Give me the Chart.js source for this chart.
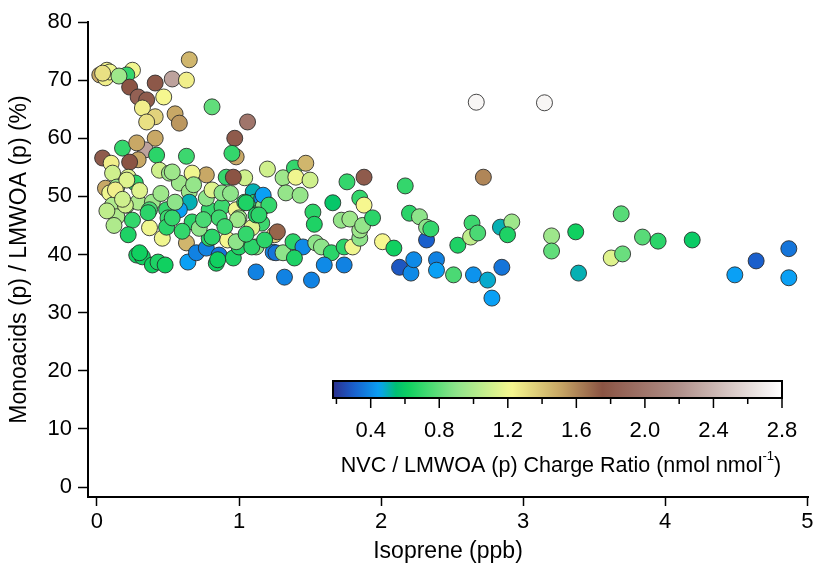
<!DOCTYPE html>
<html>
<head>
<meta charset="utf-8">
<script src="https://cdn.jsdelivr.net/npm/chart.js@4"></script>
<style>
	body { margin: 0; background: #fff; }
	#wrap { width: 817px; height: 569px; }
</style>
</head>
<body>
<div id="wrap"><canvas id="scatter"></canvas></div>
<script>

// isoprene (ppb), monoacid fraction (%), NVC / LMWOA charge ratio
const isoprene = [
	0.07, 0.02, 0.06, 0.09, 0.04, 0.25, 0.21, 0.155, 0.23, 0.41,
	0.53, 0.63, 0.65, 0.29, 0.35, 0.47, 0.32, 0.41, 0.35, 0.55,
	0.58, 0.81, 1.06, 0.97, 0.98, 0.95, 0.41, 0.34, 0.18, 0.04,
	0.28, 0.42, 0.63, 1.2, 0.1, 0.06, 0.11, 0.29, 0.23, 0.44,
	0.51, 0.58, 0.65, 0.65, 0.77, 0.22, 0.27, 0.14, 0.09, 0.11,
	0.21, 0.29, 0.39, 0.14, 0.25, 0.37, 0.49, 0.5, 0.58, 0.37,
	0.22, 0.46, 0.63, 0.28, 0.32, 0.39, 0.43, 0.48, 0.64, 0.7,
	0.77, 0.84, 0.86, 0.96, 0.92, 0.79, 0.79, 0.77, 0.88, 0.86,
	0.98, 1.0, 0.91, 1.04, 1.1, 1.04, 1.11, 1.13, 1.16, 1.09,
	1.19, 1.0, 1.12, 1.24, 0.96, 0.53, 0.67, 0.81, 0.88, 1.16,
	1.17, 1.12, 0.67, 0.81, 0.98, 1.09, 0.85, 1.25, 1.27, 1.18,
	1.26, 1.31, 1.38, 1.45, 1.39, 1.54, 1.58, 1.65, 1.74, 1.8,
	1.85, 1.85, 1.6, 1.74, 1.32, 1.51, 1.31, 1.39, 1.47, 1.4,
	1.5, 1.33, 1.43, 1.76, 1.88, 1.66, 1.85, 1.88, 1.52, 1.53,
	1.72, 1.78, 1.87, 1.94, 2.17, 2.72, 2.67, 3.15, 2.01, 2.09,
	2.13, 2.21, 2.23, 2.32, 2.2, 2.27, 2.32, 2.35, 2.39, 2.39,
	2.51, 2.54, 2.64, 2.63, 2.68, 2.65, 2.75, 2.78, 2.85, 2.84,
	2.92, 2.89, 3.2, 3.2, 3.37, 3.39, 3.69, 3.62, 3.7, 3.84,
	3.95, 4.19, 4.49, 4.64, 4.87, 4.87, 1.12, 0.21, 0.2, 0.49,
	0.13, 0.3, 0.53, 0.36, 0.99, 1.05, 1.17, 1.21, 1.14, 0.72,
	0.6, 0.75, 0.9, 0.45, 0.55, 0.18, 0.07, 1.05, 0.68, 0.3,
	0.12, 0.94
];
const monoacids = [
	71.7, 70.9, 70.4, 71.4, 71.2, 71.7, 70.9, 70.7, 68.8, 69.5,
	70.2, 70.0, 73.5, 67.1, 66.6, 67.1, 65.2, 63.7, 62.8, 64.2,
	62.6, 65.4, 62.8, 60.0, 56.8, 57.4, 60.0, 58.0, 58.3, 56.6,
	59.2, 57.1, 56.9, 54.7, 55.7, 51.4, 54.0, 56.3, 55.9, 54.5,
	54.0, 52.3, 50.8, 49.0, 53.7, 53.3, 52.3, 51.6, 50.6, 48.5,
	48.5, 49.0, 49.0, 46.5, 45.9, 47.7, 47.7, 46.3, 47.7, 44.6,
	43.4, 42.8, 42.0, 39.9, 39.6, 38.2, 38.7, 38.2, 38.7, 40.3,
	41.1, 38.5, 39.9, 39.4, 42.5, 42.8, 47.7, 49.7, 48.2, 46.3,
	47.7, 46.3, 53.3, 53.2, 50.8, 49.0, 49.0, 47.1, 45.4, 44.6,
	48.9, 41.3, 41.3, 40.4, 53.3, 54.2, 54.0, 51.1, 50.6, 49.7,
	48.2, 46.8, 45.6, 43.0, 42.2, 41.3, 39.1, 43.4, 43.9, 42.5,
	40.3, 40.3, 42.2, 41.3, 39.4, 42.0, 41.3, 40.3, 41.3, 41.3,
	42.8, 44.2, 38.2, 38.2, 36.1, 35.6, 53.2, 54.9, 55.7, 53.3,
	52.8, 50.6, 50.2, 52.5, 53.3, 48.9, 49.7, 48.5, 47.3, 45.2,
	45.9, 46.1, 45.0, 46.3, 51.8, 53.3, 66.2, 66.1, 42.2, 41.1,
	37.8, 36.8, 39.1, 42.5, 47.1, 46.5, 44.7, 44.4, 39.1, 37.3,
	36.5, 41.6, 45.4, 43.0, 43.7, 36.5, 35.6, 32.5, 37.8, 44.7,
	45.6, 43.4, 43.2, 40.6, 43.9, 36.8, 47.0, 39.4, 40.1, 43.0,
	42.3, 42.5, 36.5, 38.9, 41.0, 36.0, 37.0, 52.8, 48.5, 44.7,
	51.1, 40.3, 46.3, 47.2, 46.0, 48.9, 50.2, 48.5, 46.8, 44.5,
	44.0, 46.0, 44.8, 50.5, 49.0, 49.5, 47.5, 43.5, 52.0, 51.0,
	45.0, 50.5
];
const chargeRatio = [
	1.22, 1.5, 1.25, 1.2, 1.3, 1.2, 0.7, 0.95, 1.75, 1.78,
	2.3, 1.25, 1.45, 1.85, 1.8, 1.22, 1.25, 1.35, 1.3, 1.5,
	1.55, 0.8, 2.0, 1.8, 1.5, 0.7, 1.5, 2.3, 0.7, 1.8,
	1.5, 0.68, 0.72, 1.1, 1.25, 1.5, 1.1, 1.5, 1.75, 1.1,
	0.95, 0.95, 0.95, 0.5, 1.5, 1.15, 0.68, 0.95, 1.2, 1.0,
	1.0, 1.0, 0.95, 1.0, 0.7, 0.75, 0.7, 0.72, 0.45, 1.2,
	0.65, 1.2, 1.45, 0.62, 0.62, 0.62, 0.65, 0.62, 0.45, 0.38,
	0.38, 0.62, 0.35, 0.65, 1.22, 0.68, 0.7, 0.9, 0.72, 0.72,
	1.2, 0.95, 0.7, 1.1, 0.5, 0.7, 0.68, 0.68, 0.72, 1.15,
	0.9, 0.65, 0.9, 0.38, 1.75, 0.95, 1.2, 1.15, 0.9, 0.4,
	0.9, 0.65, 0.68, 0.68, 0.9, 0.68, 0.62, 1.35, 1.7, 0.68,
	0.35, 0.9, 0.68, 0.4, 0.65, 0.9, 0.9, 0.68, 0.68, 1.2,
	0.9, 0.95, 0.4, 0.38, 0.38, 0.38, 0.95, 0.7, 1.45, 1.2,
	1.1, 0.92, 0.92, 0.7, 1.8, 0.58, 0.7, 1.22, 0.68, 0.65,
	0.92, 0.95, 0.92, 0.68, 0.7, 1.6, 2.75, 2.75, 1.22, 0.62,
	0.28, 0.4, 0.4, 0.3, 0.68, 0.9, 0.9, 0.7, 0.38, 0.45,
	0.75, 0.65, 0.72, 1.05, 0.75, 0.42, 0.48, 0.45, 0.35, 0.5,
	0.95, 0.65, 0.95, 0.8, 0.62, 0.5, 0.78, 1.15, 0.82, 0.78,
	0.68, 0.6, 0.45, 0.3, 0.35, 0.45, 0.38, 1.15, 1.1, 0.68,
	1.25, 0.62, 0.7, 0.68, 0.95, 0.65, 0.45, 0.7, 0.68, 0.9,
	0.7, 0.75, 0.72, 0.95, 0.9, 1.1, 1.05, 0.7, 0.92, 1.15,
	1.0, 0.9
];

const xTicks = [0, 1, 2, 3, 4, 5];
const yTicks = [0, 10, 20, 30, 40, 50, 60, 70, 80];
const cbarTicks = [0.4, 0.8, 1.2, 1.6, 2.0, 2.4, 2.8];
const cbarMinor = [0.2, 0.6, 1.0, 1.4, 1.8, 2.2, 2.6];
const cbarRange = [0.18, 2.8];

// colour table (value -> rgb), close to the one in the figure
const cmapStops = [
	[0.18, [43, 47, 140]],
	[0.30, [26, 95, 204]],
	[0.45, [10, 160, 245]],
	[0.55, [0, 192, 112]],
	[0.62, [16, 208, 96]],
	[0.90, [142, 228, 138]],
	[1.22, [246, 247, 143]],
	[1.50, [200, 168, 102]],
	[1.75, [139, 84, 68]],
	[2.20, [176, 144, 138]],
	[2.80, [255, 255, 255]]
];

function cmap(v){
	if(v <= cmapStops[0][0]) return rgb(cmapStops[0][1]);
	for(let i = 1; i < cmapStops.length; i++){
		let a = cmapStops[i-1], b = cmapStops[i];
		if(v <= b[0]){
			let t = (v - a[0]) / (b[0] - a[0]);
			return rgb(a[1].map((c, k) => c + (b[1][k] - c) * t));
		}
	}
	return rgb(cmapStops[cmapStops.length-1][1]);
}

function rgb(c){
	return 'rgb(' + c.map(Math.round).join(',') + ')';
}

const points = isoprene.map((x, i) => ({x: x, y: monoacids[i], c: chargeRatio[i]}));

const fontName = '"Liberation Sans", Arial, sans-serif';

// colour bar drawn inside the plot, like the original
const colorBar = {
	id: 'colorBar',
	afterDraw(chart){
		const ctx = chart.ctx;
		const left = 333, right = 782, top = 381, bottom = 398;
		const span = cbarRange[1] - cbarRange[0];
		const px = v => left + (v - cbarRange[0]) / span * (right - left);
		ctx.save();
		const grad = ctx.createLinearGradient(left, 0, right, 0);
		for(let i = 0; i <= 100; i++){
			grad.addColorStop(i / 100, cmap(cbarRange[0] + span * i / 100));
		}
		ctx.fillStyle = grad;
		ctx.fillRect(left, top, right - left, bottom - top);
		ctx.strokeStyle = '#000';
		ctx.lineWidth = 2;
		ctx.strokeRect(left, top, right - left, bottom - top);

		ctx.lineWidth = 1.5;
		ctx.beginPath();
		cbarTicks.forEach(v => { ctx.moveTo(px(v), bottom); ctx.lineTo(px(v), bottom + 10); });
		cbarMinor.forEach(v => { ctx.moveTo(px(v), bottom); ctx.lineTo(px(v), bottom + 6); });
		ctx.stroke();

		ctx.fillStyle = '#000';
		ctx.font = '22px ' + fontName;
		ctx.textAlign = 'center';
		ctx.textBaseline = 'middle';
		cbarTicks.forEach(v => ctx.fillText(v.toFixed(1), px(v), 431));

		// title with superscript
		const main = 'NVC / LMWOA (p) Charge Ratio (nmol nmol';
		const sup = '-1';
		const tail = ')';
		ctx.font = '21.5px ' + fontName;
		let w1 = ctx.measureText(main).width;
		let w3 = ctx.measureText(tail).width;
		ctx.font = '13px ' + fontName;
		let w2 = ctx.measureText(sup).width;
		let x0 = 561 - (w1 + w2 + w3) / 2;
		ctx.textAlign = 'left';
		ctx.font = '21.5px ' + fontName;
		ctx.fillText(main, x0, 466);
		ctx.fillText(tail, x0 + w1 + w2, 466);
		ctx.font = '13px ' + fontName;
		ctx.fillText(sup, x0 + w1, 456);
		ctx.restore();
	}
};

const ctx = document.getElementById('scatter');

new Chart(ctx, {
	type: 'scatter',
	data: {
		datasets: [{
			data: points,
			pointRadius: 8,
			pointHoverRadius: 8,
			borderWidth: 1,
			borderColor: 'rgba(40,40,40,0.85)',
			backgroundColor: c => c.raw ? cmap(c.raw.c) : '#ccc',
			clip: false
		}]
	},
	options: {
		responsive: true,
		maintainAspectRatio: false,
		animation: false,
		layout: {padding: {left: 0, top: 22, right: 7, bottom: 0}},
		plugins: {legend: {display: false}, tooltip: {enabled: false}},
		scales: {
			x: {
				type: 'linear',
				min: -0.063,
				max: 5.005,
				afterBuildTicks: s => { s.ticks = xTicks.map(v => ({value: v})); },
				afterFit: s => { s.height = 72; },
				grid: {drawOnChartArea: false, drawTicks: true, tickLength: 9, tickWidth: 1.5, tickColor: '#000'},
				border: {display: true, color: '#000', width: 2},
				ticks: {color: '#000', font: {family: fontName, size: 22}, padding: 3, maxRotation: 0},
				title: {display: true, text: 'Isoprene (ppb)', color: '#000', font: {family: fontName, size: 23}, padding: {top: 0, bottom: 4}}
			},
			y: {
				type: 'linear',
				min: -1.72,
				max: 80,
				afterBuildTicks: s => { s.ticks = yTicks.map(v => ({value: v})); },
				afterFit: s => { s.width = 88; },
				grid: {drawOnChartArea: false, drawTicks: true, tickLength: 10, tickWidth: 1.5, tickColor: '#000'},
				border: {display: true, color: '#000', width: 2},
				ticks: {color: '#000', font: {family: fontName, size: 22}, padding: 6},
				title: {display: true, text: 'Monoacids (p) / LMWOA (p) (%)', color: '#000', font: {family: fontName, size: 23}, padding: {top: 6, bottom: 0}}
			}
		}
	},
	plugins: [colorBar]
});

</script>
</body>
</html>
